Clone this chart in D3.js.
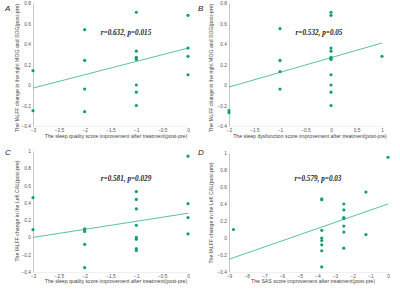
<!DOCTYPE html>
<html>
<head>
<meta charset="utf-8">
<script src="https://cdn.jsdelivr.net/npm/d3@7"></script>
<style>
  body { margin: 0; background: #fff; }
  svg { display: block; }
</style>
</head>
<body>
<div id="chart"></div>
<script>
(function(){

// panel A: sleep quality vs MOG/SOG
var aX = [-3, -3, -2, -2, -2, -2, -1, -1, -1, -1, -1, -1, -1, -1, 0, 0, 0, 0];
var aY = [0.14, -0.25, 0.54, 0.24, -0.04, -0.26, 0.71, 0.33, 0.27, 0.26, 0.25, 0.0, -0.07, -0.2, 0.68, 0.36, 0.28, 0.1];
var aFit = [[-3, -0.03], [0, 0.36]];

// panel B: sleep dysfunction vs MOG/SOG
var bX = [-2, -2, -1, -1, -1, -1, 0, 0, 0, 0, 0, 0, 0, 0, 0, 0, 0, 1];
var bY = [-0.25, -0.27, 0.55, 0.24, 0.13, -0.04, 0.71, 0.68, 0.36, 0.33, 0.27, 0.26, 0.25, 0.1, 0.0, -0.07, -0.2, 0.28];
var bFit = [[-2, -0.02], [1, 0.41]];

// panel C: sleep quality vs left CAL
var cX = [-3, -3, -2, -2, -2, -2, -2, -1, -1, -1, -1, -1, -1, -1, -1, 0, 0, 0, 0];
var cY = [0.46, 0.09, 0.1, 0.09, 0.07, -0.08, -0.35, 0.53, 0.44, 0.33, 0.14, 0.0, -0.02, -0.13, -0.15, 0.94, 0.39, 0.23, 0.04];
var cFit = [[-3, 0.0], [0, 0.28]];

// panel D: SAS vs left CAL
var dX = [-8.75, -3.75, -3.75, -3.75, -3.75, -3.75, -3.75, -3.75, -3.75, -2.5, -2.5, -2.5, -2.5, -2.5, -2.5, -2.5, -1.25, -1.25, 0];
var dY = [0.1, 0.46, 0.45, 0.09, 0.0, -0.03, -0.08, -0.15, -0.34, 0.4, 0.33, 0.24, 0.23, 0.14, 0.07, -0.12, 0.54, 0.04, 0.95];
var dFit = [[-9, -0.25], [0, 0.4]];

var labels = ["A", "B", "C", "D"];
var stats = ["r=0.632, p=0.015", "r=0.532, p=0.05", "r=0.581, p=0.029", "r=0.579, p=0.03"];
var xTitles = [
  "The sleep quality score improvement after treatment(post-pre)",
  "The sleep dysfunction score improvement after treatment(post-pre)",
  "The sleep quality score improvement after treatment(post-pre)",
  "The SAS score improvement after treatment(post-pre)"
];
var yTitles = [
  "The fALFF change in the right MOG and SOG(post-pre)",
  "The fALFF change in the right MOG and SOG(post-pre)",
  "The fALFF change in the Left CAL(post-pre)",
  "The fALFF change in the Left CAL(post-pre)"
];
var xTicksA = [-3, -2.5, -2, -1.5, -1, -0.5, 0];
var xTicksB = [-2, -1.5, -1, -0.5, 0, 0.5, 1];
var xTicksD = [-9, -8, -7, -6, -5, -4, -3, -2, -1, 0];
var yTicksTop = [-0.4, -0.2, 0, 0.2, 0.4, 0.6, 0.8];
var yTicksBot = [-0.4, -0.2, 0, 0.2, 0.4, 0.6, 0.8, 1];

var panels = [
  {x: aX, y: aY, fit: aFit, xd: [-3, 0], yd: [-0.4, 0.8], xt: xTicksA, yt: yTicksTop,
   px: [33, 188], py: [126, 3], lab: [5, 11], st: [126, 35], xl: [116, 138], yl: [19, 68]},
  {x: bX, y: bY, fit: bFit, xd: [-2, 1], yd: [-0.4, 0.8], xt: xTicksB, yt: yTicksTop,
   px: [229, 382], py: [126, 3], lab: [198, 11], st: [319, 35], xl: [310, 138], yl: [213, 68]},
  {x: cX, y: cY, fit: cFit, xd: [-3, 0], yd: [-0.4, 1], xt: xTicksA, yt: yTicksBot,
   px: [33, 188], py: [272, 151], lab: [5, 155], st: [126, 181], xl: [116, 283], yl: [19, 211]},
  {x: dX, y: dY, fit: dFit, xd: [-9, 0], yd: [-0.4, 1], xt: xTicksD, yt: yTicksBot,
   px: [229, 388], py: [272, 153], lab: [198, 155], st: [318, 181], xl: [313, 283], yl: [213, 213]}
];

var svg = d3.select("#chart")
  .append("svg")
    .attr("width", 400)
    .attr("height", 289);

var dotColor = "#15a06d",
    lineColor = "#45bb8f",
    axisColor = "#b8b8b8";

panels.forEach(function(p, i) {
  var x = d3.scaleLinear().domain(p.xd).range(p.px);
  var y = d3.scaleLinear().domain(p.yd).range(p.py);

  var g = svg.append("g");

  var yAxis = g.append("g")
    .attr("transform", "translate(" + p.px[0] + ",0)")
    .call(d3.axisLeft(y).tickValues(p.yt).tickSize(0).tickPadding(2)
      .tickFormat(d3.format("")));
  yAxis.select(".domain").attr("stroke", axisColor).attr("stroke-width", 0.8);

  var xAxis = g.append("g")
    .attr("transform", "translate(0," + p.py[0] + ")")
    .call(d3.axisBottom(x).tickValues(p.xt).tickSize(0).tickPadding(3)
      .tickFormat(d3.format("")));
  xAxis.select(".domain").attr("stroke", "#e6e6e6").attr("stroke-width", 0.6);

  g.selectAll(".tick text")
    .attr("font-family", "Liberation Sans, Arial, sans-serif")
    .attr("font-size", "4.8px")
    .attr("fill", "#555");

  g.append("text")
    .attr("x", p.xl[0])
    .attr("y", p.xl[1])
    .attr("text-anchor", "middle")
    .attr("font-family", "Liberation Sans, Arial, sans-serif")
    .attr("font-size", "5.2px")
    .attr("fill", "#444")
    .text(xTitles[i]);

  g.append("text")
    .attr("transform", "translate(" + p.yl[0] + "," + p.yl[1] + ") rotate(-90)")
    .attr("text-anchor", "middle")
    .attr("font-family", "Liberation Sans, Arial, sans-serif")
    .attr("font-size", "5.2px")
    .attr("fill", "#444")
    .text(yTitles[i]);

  g.append("line")
    .attr("x1", x(p.fit[0][0])).attr("y1", y(p.fit[0][1]))
    .attr("x2", x(p.fit[1][0])).attr("y2", y(p.fit[1][1]))
    .attr("stroke", lineColor)
    .attr("stroke-width", 0.9);

  g.selectAll("circle")
    .data(p.x)
    .enter()
    .append("circle")
      .attr("cx", function(d) { return x(d); })
      .attr("cy", function(d, j) { return y(p.y[j]); })
      .attr("r", 1.6)
      .attr("fill", dotColor);

  g.append("text")
    .attr("x", p.st[0])
    .attr("y", p.st[1])
    .attr("text-anchor", "middle")
    .attr("font-family", "Liberation Serif, Times New Roman, serif")
    .attr("font-style", "italic")
    .attr("font-weight", "bold")
    .attr("font-size", "7.2px")
    .attr("fill", "#222")
    .text(stats[i]);

  g.append("text")
    .attr("x", p.lab[0])
    .attr("y", p.lab[1])
    .attr("font-family", "Liberation Sans, Arial, sans-serif")
    .attr("font-style", "italic")
    .attr("font-size", "8px")
    .attr("fill", "#222")
    .text(labels[i]);
});

})()
</script>
</body>
</html>
